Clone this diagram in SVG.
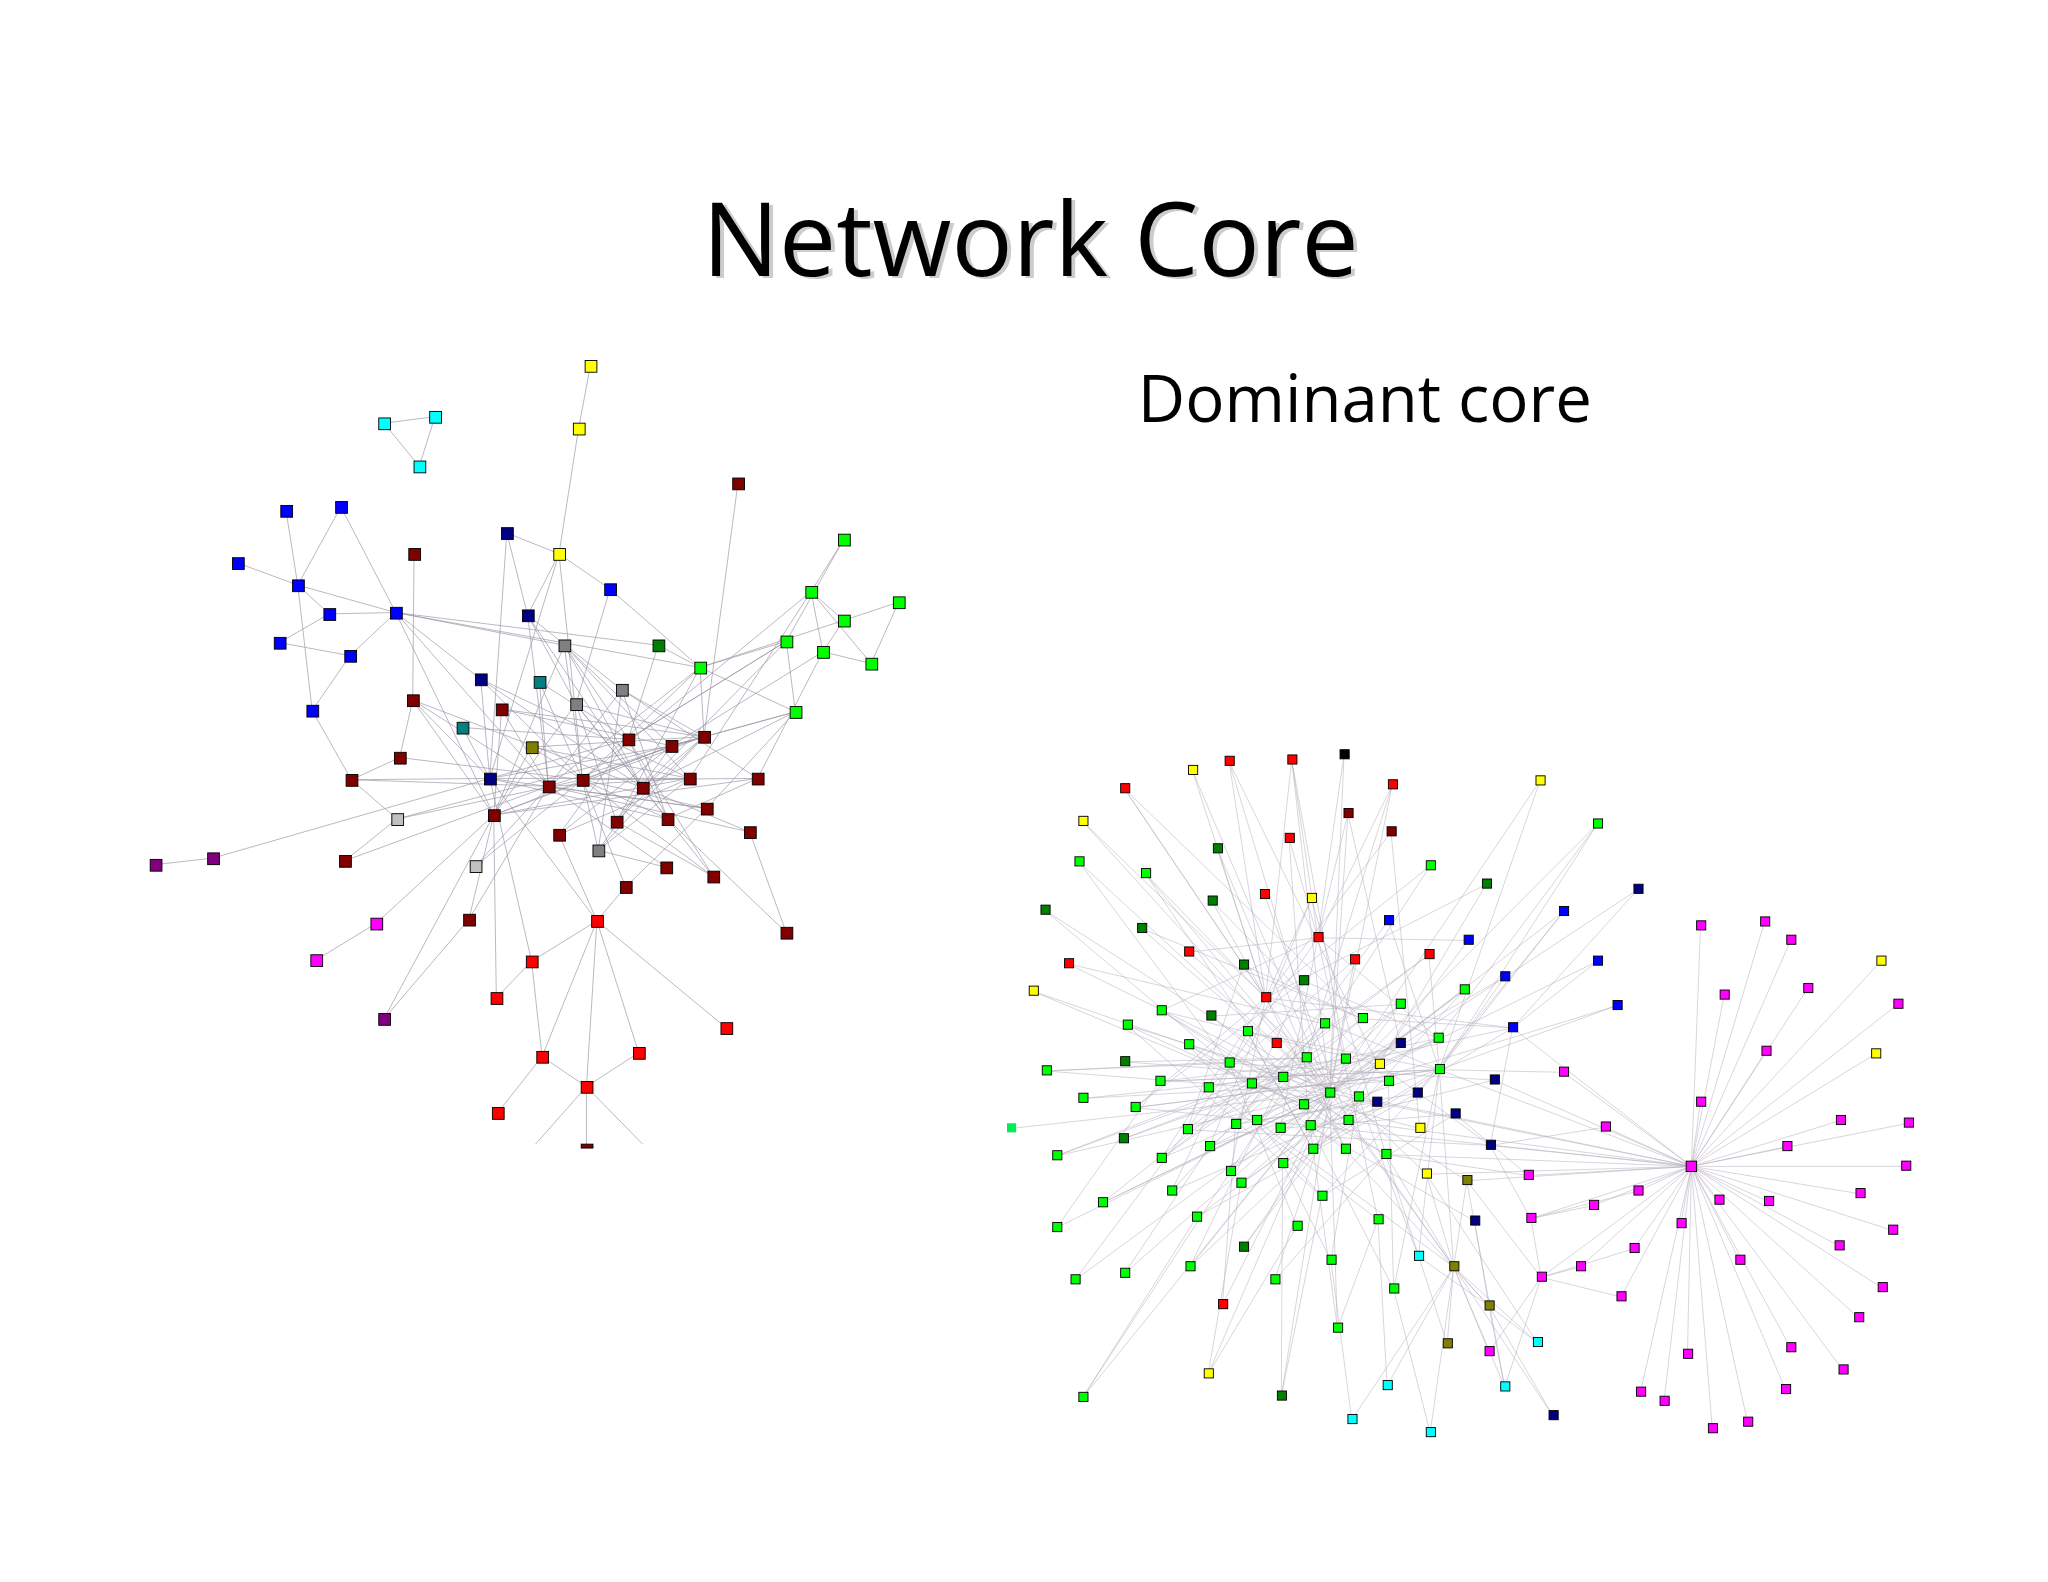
<svg xmlns="http://www.w3.org/2000/svg" width="2048" height="1582" viewBox="0 0 2048 1582">
<style>
.t{font-family:"Open Sans","Lato",sans-serif;fill:#000}
.e{fill:none;stroke:#9a94a4;stroke-width:0.6;opacity:0.85}
.er{fill:none;stroke:#b4aebe;stroke-width:0.5;opacity:0.8}
.L rect,.R rect{stroke:#000;stroke-width:0.7}
.L rect{width:9px;height:9px}
.R rect{width:7px;height:7px}
.cy{fill:#00ffff}.ye{fill:#ffff00}.dr{fill:#800000}.bl{fill:#0000ff}.nv{fill:#000080}.gr{fill:#808080}.lg{fill:#c0c0c0}.te{fill:#008080}.ol{fill:#808000}.dg{fill:#008000}.g{fill:#00ff00}.pu{fill:#800080}.mg{fill:#ff00ff}.rd{fill:#ff0000}.bk{fill:#000}
</style>
<rect x="0" y="0" width="2048" height="1582" fill="#fff"/>
<g transform="scale(1.3061)">
<text class="t" x="792" y="213" font-size="78" text-anchor="middle" style="fill:#ccc">Network Core</text>
<text class="t" x="789" y="211" font-size="78" text-anchor="middle">Network Core</text>
<text class="t" x="1045" y="323" font-size="50" text-anchor="middle">Dominant core</text>
<g id="connectors">
<path class="e" d="M294,324L333,319L321,357L294,324 M452,280L443,328L428,424L404,471 M428,424L388,408 M428,424L467,451 M428,424L375,596 M428,424L446,597 M565,370L539,564 M317,424L316,536 M219,391L228,448L252,470L303,469 M261,388L228,448 M182,431L228,448 M214,492L252,470 M214,492L268,502 M228,448L239,544 M261,388L303,469 M303,469L268,502 M303,469L368,520L375,596 M303,469L432,494 M303,469L504,494 M303,469L420,602 M303,469L378,624 M268,502L239,544 M228,448L303,469 M239,544L269,597 M388,408L375,596 M388,408L404,471L441,539 M467,451L536,511 M467,451L441,539 M404,471L476,528 M404,471L420,602 M432,494L446,597 M432,494L492,603 M432,494L514,571 M476,528L539,564 M476,528L420,602 M476,528L511,627 M441,539L472,629 M441,539L378,624 M504,494L536,511L539,564 M504,494L481,566 M536,511L646,475 M536,511L609,545 M536,511L602,491 M646,413L621,453L646,475L688,461 M646,413L602,491 M621,453L630,499L667,508 M688,461L667,508 M621,453L667,508 M602,491L609,545 M646,475L630,499 M621,453L528,596 M602,491L492,603 M609,545L541,619 M609,545L514,571 M630,499L580,596 M621,453L446,597 M316,536L306,580L269,597 M316,536L375,596 M316,536L420,602 M316,536L378,624 M384,543L420,602 M384,543L378,624 M354,557L375,596 M407,572L446,597 M407,572L378,624 M413,522L481,566 M269,597L375,596 M269,597L304,627 M304,627L446,597 M304,627L264,659 M163,657L119,662 M163,657L375,596 M364,663L446,597 M364,663L420,602 M375,596L528,596 M375,596L481,566 M375,596L514,571 M375,596L457,705 M378,624L580,596 M378,624L539,564 M378,624L359,704 M378,624L294,780 M420,602L539,564 M420,602L541,619 M420,602L510,664 M420,602L574,637 M446,597L580,596 M446,597L546,671 M446,597L479,679 M446,597L514,571 M446,597L541,619 M492,603L539,564 M492,603L574,637 M492,603L458,651 M481,566L511,627 M481,566L428,639 M481,566L546,671 M514,571L472,629 M514,571L428,639 M528,596L428,639 M528,596L458,651 M539,564L472,629 M539,564L458,651 M511,627L580,596 M511,627L602,714 M541,619L479,679 M428,639L457,705 M458,651L510,664 M472,629L546,671 M479,679L457,705 M457,705L449,832 M457,705L489,806 M457,705L556,787 M457,705L407,736 M457,705L415,809 M407,736L380,764 M407,736L415,809 M415,809L381,852 M415,809L449,832L489,806 M449,832L492,876 M449,832L410,876 M449,832L449,876 M359,704L294,780 M288,707L242,735 M288,707L378,624 M359,704L420,602 M380,764L378,624 M407,736L375,596 M264,659L420,602 M574,637L602,714 M481,566L602,491 M514,571L609,545 M441,539L539,564 M432,494L528,596 M404,471L492,603 M368,520L446,597 M368,520L492,603 M368,520L528,596 M384,543L514,571 M384,543L539,564 M354,557L481,566 M407,572L539,564 M407,572L528,596 M441,539L511,627 M441,539L546,671 M476,528L580,596 M476,528L458,651 M432,494L378,624 M432,494L481,566 M413,522L446,597 M413,522L420,602 M536,511L420,602 M536,511L446,597 M536,511L472,629 M602,491L481,566 M630,499L514,571 M609,545L492,603 M375,596L541,619 M375,596L511,627 M378,624L528,596 M378,624L514,571 M420,602L528,596 M446,597L511,627 M446,597L458,651 M304,627L539,564 M269,597L420,602 M306,580L446,597 M316,536L492,603 M303,469L536,511"/>
<path class="er" d="M1295,893L1302,709 M1295,893L1351,706 M1295,893L1371,720 M1295,893L1320,762 M1295,893L1384,757 M1295,893L1453,769 M1295,893L1352,805 M1295,893L1197,821 M1295,893L1302,844 M1295,893L1229,863 M1295,893L1409,858 M1295,893L1461,860 M1295,893L1368,878 M1295,893L1459,893 M1295,893L1170,900 M1295,893L1254,912 M1295,893L1220,923 M1295,893L1172,933 M1295,893L1316,919 M1295,893L1354,920 M1295,893L1424,914 M1295,893L1287,937 M1295,893L1251,956 M1295,893L1449,942 M1295,893L1332,965 M1295,893L1210,970 M1295,893L1180,978 M1295,893L1408,954 M1295,893L1241,993 M1295,893L1441,986 M1295,893L1423,1009 M1295,893L1371,1032 M1295,893L1292,1037 M1295,893L1411,1049 M1295,893L1367,1064 M1295,893L1256,1066 M1295,893L1274,1073 M1295,893L1338,1089 M1295,893L1311,1094 M1295,893L1440,736 M1295,893L1436,807 M1295,893L1102,819 M1295,893L1061,884 M1295,893L1030,858 M1295,893L1158,787 M1295,893L1092,899 M1295,893L1003,862 M1295,893L1144,827 M1295,893L1018,837 M1295,893L1040,840 M1295,893L1123,904 M1295,893L1141,877
M1018,837L861,604 M1018,837L941,583 M1018,837L989,582 M1018,837L1066,601 M1018,837L1029,578 M1018,837L1032,623 M1018,837L913,590 M1018,837L829,629 M1018,837L826,660 M1018,837L877,669 M1018,837L800,697 M1018,837L874,711 M1018,837L818,738 M1018,837L791,759 M1018,837L801,820 M1018,837L774,864 M1018,837L809,885 M1018,837L809,940 M1018,837L823,980 M1018,837L844,921 M1018,837L861,975 M1018,837L911,970 M1018,837L936,999 M1018,837L925,1052 M1018,837L829,1070 M1018,837L981,1069 M1018,837L1024,1017 M1018,837L1179,598 M1018,837L1223,631 M1018,837L1254,681 M1018,837L1197,698 M1018,837L1223,736 M1018,837L1238,770
M969,764L861,604 M969,764L941,583 M969,764L989,582 M969,764L913,590 M969,764L829,629 M969,764L877,669 M969,764L932,650 M969,764L928,690 M969,764L1004,688 M969,764L1065,637 M969,764L1095,663 M969,764L1138,677 M969,764L1102,819 M969,764L869,848 M969,764L889,887 M969,764L942,897 M969,764L1030,880 M969,764L1158,787
M1009,718L989,582 M1009,718L1029,578 M1009,718L1032,623 M1009,718L1066,601 M1009,718L987,642 M1009,718L910,729 M1009,718L889,774 M1009,718L909,865 M1009,718L980,864 M1009,718L1055,934 M1009,718L1101,795 M1009,718L1124,720
M1102,819L1223,631 M1102,819L1179,598 M1102,819L1197,698 M1102,819L1152,748 M1102,819L1238,770 M1102,819L1063,705 M1102,819L1094,731 M1102,819L955,790 M1102,819L888,828 M1102,819L869,848 M1102,819L926,878 M1102,819L982,891 M1102,819L1012,916 M1102,819L1086,962 M1102,819L1113,970 M1102,819L1067,987
M1158,787L1254,681 M1158,787L1223,736 M1158,787L1043,780 M1158,787L958,830 M1158,787L1005,880 M1158,787L1141,877
M1113,970L1177,1028 M1113,970L1152,1062 M1113,970L1062,1061 M1113,970L1035,1087 M1113,970L1095,1097 M1113,970L1140,1000 M1113,970L1108,1029 M1113,970L1140,1035 M1113,970L1189,1084 M1113,970L1000,810 M1113,970L962,858 M1113,970L1061,884 M1113,970L1123,904 M1113,970L1032,858 M1113,970L1092,899 M1140,1000L1177,1028 M1140,1000L1152,1062 M1140,1000L1086,962 M1140,1000L1129,935 M1140,1000L1030,880 M1180,978L1152,1062 M1180,978L1140,1035 M1180,978L1123,904 M1180,978L1241,993 M1180,978L1210,970 M1180,978L1172,933 M1180,978L1251,956 M1172,933L1220,923 M1172,933L1254,912 M1172,933L1141,877 M1170,900L1114,853 M1170,900L1061,884 M1197,821L1102,819 M1229,863L1141,877
M829,1070L942,897 M829,1070L916,932 M925,1052L950,906 M925,1052L993,939 M981,1069L982,891 M981,1069L1012,916 M936,999L946,861 M1024,1017L1003,862 M1024,1017L1055,934 M823,980L909,865 M861,975L926,878 M809,940L888,828 M844,921L958,830 M911,970L982,825 M976,980L1030,811 M1019,965L1040,840 M1067,987L1063,828
M801,820L941,814 M801,820L1000,810 M829,841L982,825 M829,841L1063,828 M888,828L1030,811 M888,828L1102,819 M863,785L1040,840 M863,785L998,846 M889,774L1032,858 M910,800L1061,884 M910,800L1012,916 M955,790L1005,880 M955,790L897,912 M1014,784L909,865 M1014,784L946,861 M1043,780L926,878 M1072,769L942,897 M1072,769L962,858 M1121,758L980,864 M1121,758L1030,858 M1101,795L889,887 M1101,795L925,833 M869,848L1102,819 M869,848L1003,862 M909,865L1072,799 M946,861L1085,837 M962,858L1054,844 M980,864L1114,853 M1003,862L1144,827 M809,885L958,830 M809,885L1000,810 M889,887L1043,780 M926,878L1101,795 M942,897L1121,758 M982,891L1072,769 M1005,880L955,790 M1030,880L910,800 M1061,884L889,774 M897,912L1014,784 M950,906L1063,828 M1012,916L863,785 M844,921L1018,837 M916,932L1040,840 M993,939L941,814 M1055,934L925,833 M911,970L1030,858 M976,980L1061,884 M1019,965L982,891 M1067,987L1003,862 M1055,815L889,774 M1087,864L958,830 M1056,815L1141,877 M952,739L1043,780 M998,751L1101,795 M998,751L869,848 M927,778L1072,769 M861,813L1000,810 M860,872L1030,811 M952,955L1005,880 M952,739L909,865 M998,751L946,861 M927,778L1030,858 M861,813L1063,828 M860,872L982,825 M952,955L1040,840 M1037,735L1018,837 M1037,735L925,833 M1094,731L958,830 M910,729L1040,840 M987,642L1002,862 M968,685L1032,858 M1004,688L926,878 M1004,688L1061,884 M932,650L1030,880 M928,690L1063,828 M874,711L1043,780 M800,697L958,830 M826,660L941,814 M877,669L982,825 M818,738L1014,784 M791,759L998,846 M1095,663L942,897 M1138,677L1030,858 M1063,705L946,861 M1124,720L1005,880 M1152,748L962,858 M1094,731L889,887 M1066,601L1000,810 M989,582L1030,811 M941,583L1055,815 M861,604L1043,780 M1065,637L1087,864 M1032,623L1072,799 M1223,631L1101,795 M1197,698L1085,837 M1144,827L941,814 M1114,853L1012,916 M1085,837L916,932 M1054,844L897,912 M1072,799L950,906 M1141,877L909,865 M1129,935L1003,862 M1123,904L1018,837 M1092,899L1000,810 M1086,962L1040,840 M1062,1061L1055,934 M1035,1087L1019,965 M1095,1097L1067,987 M1177,1028L1092,899 M1152,1062L1123,904 M1108,1029L1061,884 M1189,1084L1140,1000"/>
</g>
<g id="nodesL" class="L">
<rect id="nl1" class="cy" x="290" y="320"/><rect id="nl2" class="cy" x="329" y="315"/><rect id="nl3" class="cy" x="317" y="353"/>
<rect id="nl4" class="ye" x="448" y="276"/><rect id="nl5" class="ye" x="439" y="324"/><rect id="nl6" class="ye" x="424" y="420"/>
<rect id="nl7" class="dr" x="561" y="366"/><rect id="nl8" class="dr" x="313" y="420"/>
<rect id="nl9" class="bl" x="215" y="387"/><rect id="nl10" class="bl" x="257" y="384"/><rect id="nl11" class="bl" x="178" y="427"/><rect id="nl12" class="bl" x="224" y="444"/><rect id="nl13" class="bl" x="248" y="466"/><rect id="nl14" class="bl" x="299" y="465"/><rect id="nl15" class="bl" x="210" y="488"/><rect id="nl16" class="bl" x="264" y="498"/><rect id="nl17" class="bl" x="235" y="540"/><rect id="nl18" class="bl" x="463" y="447"/>
<rect id="nl19" class="nv" x="384" y="404"/><rect id="nl20" class="nv" x="400" y="467"/><rect id="nl21" class="nv" x="364" y="516"/><rect id="nl22" class="nv" x="371" y="592"/>
<rect id="nl23" class="gr" x="428" y="490"/><rect id="nl24" class="gr" x="472" y="524"/><rect id="nl25" class="gr" x="437" y="535"/><rect id="nl26" class="gr" x="454" y="647"/><rect id="nl27" class="lg" x="300" y="623"/><rect id="nl28" class="lg" x="360" y="659"/>
<rect id="nl29" class="te" x="409" y="518"/><rect id="nl30" class="te" x="350" y="553"/><rect id="nl31" class="ol" x="403" y="568"/><rect id="nl32" class="dg" x="500" y="490"/>
<rect id="nl33" class="g" x="532" y="507"/><rect id="nl34" class="g" x="642" y="409"/><rect id="nl35" class="g" x="617" y="449"/><rect id="nl36" class="g" x="642" y="471"/><rect id="nl37" class="g" x="684" y="457"/><rect id="nl38" class="g" x="598" y="487"/><rect id="nl39" class="g" x="626" y="495"/><rect id="nl40" class="g" x="663" y="504"/><rect id="nl41" class="g" x="605" y="541"/>
<rect id="nl42" class="dr" x="312" y="532"/><rect id="nl43" class="dr" x="380" y="539"/><rect id="nl44" class="dr" x="302" y="576"/><rect id="nl45" class="dr" x="265" y="593"/><rect id="nl46" class="dr" x="477" y="562"/><rect id="nl47" class="dr" x="510" y="567"/><rect id="nl48" class="dr" x="535" y="560"/><rect id="nl49" class="dr" x="416" y="598"/><rect id="nl50" class="dr" x="442" y="593"/><rect id="nl51" class="dr" x="488" y="599"/><rect id="nl52" class="dr" x="524" y="592"/><rect id="nl53" class="dr" x="576" y="592"/><rect id="nl54" class="dr" x="374" y="620"/><rect id="nl55" class="dr" x="424" y="635"/><rect id="nl56" class="dr" x="468" y="625"/><rect id="nl57" class="dr" x="507" y="623"/><rect id="nl58" class="dr" x="537" y="615"/><rect id="nl59" class="dr" x="570" y="633"/><rect id="nl60" class="dr" x="506" y="660"/><rect id="nl61" class="dr" x="542" y="667"/><rect id="nl62" class="dr" x="475" y="675"/><rect id="nl63" class="dr" x="260" y="655"/><rect id="nl64" class="dr" x="355" y="700"/><rect id="nl65" class="dr" x="598" y="710"/>
<rect id="nl66" class="pu" x="115" y="658"/><rect id="nl67" class="pu" x="159" y="653"/><rect id="nl68" class="pu" x="290" y="776"/>
<rect id="nl69" class="mg" x="284" y="703"/><rect id="nl70" class="mg" x="238" y="731"/>
<rect id="nl71" class="rd" x="453" y="701"/><rect id="nl72" class="rd" x="403" y="732"/><rect id="nl73" class="rd" x="376" y="760"/><rect id="nl74" class="rd" x="411" y="805"/><rect id="nl75" class="rd" x="485" y="802"/><rect id="nl76" class="rd" x="552" y="783"/><rect id="nl77" class="rd" x="445" y="828"/><rect id="nl78" class="rd" x="377" y="848"/><rect id="nl79" class="dr" x="445" y="876" style="height:3px"/>
</g>
<g id="nodesR" class="R">
<rect class="rd" x="858" y="600"/><rect class="rd" x="938" y="579"/><rect class="rd" x="986" y="578"/><rect class="rd" x="1063" y="597"/><rect class="rd" x="984" y="638"/><rect class="rd" x="965" y="681"/><rect class="rd" x="907" y="725"/><rect class="rd" x="1006" y="714"/><rect class="rd" x="1034" y="731"/><rect class="rd" x="1091" y="727"/><rect class="rd" x="815" y="734"/><rect class="rd" x="966" y="760"/><rect class="rd" x="974" y="795"/><rect class="rd" x="933" y="995"/>
<rect class="bk" x="1026" y="574"/><rect class="dr" x="1029" y="619"/><rect class="dr" x="1062" y="633"/>
<rect class="ye" x="910" y="586"/><rect class="ye" x="826" y="625"/><rect class="ye" x="1176" y="594"/><rect class="ye" x="1001" y="684"/><rect class="ye" x="788" y="755"/><rect class="ye" x="1053" y="811"/><rect class="ye" x="1084" y="860"/><rect class="ye" x="1089" y="895"/><rect class="ye" x="1437" y="732"/><rect class="ye" x="1433" y="803"/><rect class="ye" x="922" y="1048"/>
<rect class="g" x="1220" y="627"/><rect class="g" x="823" y="656"/><rect class="g" x="874" y="665"/><rect class="g" x="1092" y="659"/><rect class="g" x="886" y="770"/><rect class="g" x="860" y="781"/><rect class="g" x="907" y="796"/><rect class="g" x="952" y="786"/><rect class="g" x="1011" y="780"/><rect class="g" x="1040" y="776"/><rect class="g" x="1069" y="765"/><rect class="g" x="1118" y="754"/><rect class="g" x="798" y="816"/><rect class="g" x="826" y="837"/><rect class="g" x="885" y="824"/><rect class="g" x="922" y="829"/><rect class="g" x="938" y="810"/><rect class="g" x="955" y="826"/><rect class="g" x="979" y="821"/><rect class="g" x="997" y="806"/><rect class="g" x="1027" y="807"/><rect class="g" x="1015" y="833"/><rect class="g" x="995" y="842"/><rect class="g" x="1037" y="836"/><rect class="g" x="1060" y="824"/><rect class="g" x="1099" y="815"/><rect class="g" x="1098" y="791"/><rect class="g" x="866" y="844"/><rect class="g" x="906" y="861"/><rect class="g" x="943" y="857"/><rect class="g" x="959" y="854"/><rect class="g" x="977" y="860"/><rect class="g" x="1000" y="858"/><rect class="g" x="1029" y="854"/><rect class="g" x="806" y="881"/><rect class="g" x="886" y="883"/><rect class="g" x="923" y="874"/><rect class="g" x="939" y="893"/><rect class="g" x="979" y="887"/><rect class="g" x="1002" y="876"/><rect class="g" x="1027" y="876"/><rect class="g" x="1058" y="880"/><rect class="g" x="894" y="908"/><rect class="g" x="947" y="902"/><rect class="g" x="1009" y="912"/><rect class="g" x="841" y="917"/><rect class="g" x="913" y="928"/><rect class="g" x="990" y="935"/><rect class="g" x="1052" y="930"/><rect class="g" x="806" y="936"/><rect class="g" x="908" y="966"/><rect class="g" x="973" y="976"/><rect class="g" x="1016" y="961"/><rect class="g" x="1064" y="983"/><rect class="g" x="820" y="976"/><rect class="g" x="858" y="971"/><rect class="g" x="1021" y="1013"/><rect class="g" x="826" y="1066"/><rect class="g" x="771" y="860" style="fill:#00ee55;stroke:none"/>
<rect class="dg" x="797" y="693"/><rect class="dg" x="871" y="707"/><rect class="dg" x="925" y="686"/><rect class="dg" x="929" y="646"/><rect class="dg" x="1135" y="673"/><rect class="dg" x="949" y="735"/><rect class="dg" x="995" y="747"/><rect class="dg" x="924" y="774"/><rect class="dg" x="858" y="809"/><rect class="dg" x="857" y="868"/><rect class="dg" x="949" y="951"/><rect class="dg" x="978" y="1065"/>
<rect class="bl" x="1194" y="694"/><rect class="bl" x="1220" y="732"/><rect class="bl" x="1060" y="701"/><rect class="bl" x="1121" y="716"/><rect class="bl" x="1149" y="744"/><rect class="bl" x="1235" y="766"/><rect class="bl" x="1155" y="783"/>
<rect class="nv" x="1251" y="677"/><rect class="nv" x="1069" y="795"/><rect class="nv" x="1082" y="833"/><rect class="nv" x="1051" y="840"/><rect class="nv" x="1141" y="823"/><rect class="nv" x="1111" y="849"/><rect class="nv" x="1138" y="873"/><rect class="nv" x="1126" y="931"/><rect class="nv" x="1186" y="1080"/>
<rect class="ol" x="1120" y="900"/><rect class="ol" x="1110" y="966"/><rect class="ol" x="1137" y="996"/><rect class="ol" x="1105" y="1025"/>
<rect class="cy" x="1083" y="958"/><rect class="cy" x="1174" y="1024"/><rect class="cy" x="1149" y="1058"/><rect class="cy" x="1059" y="1057"/><rect class="cy" x="1032" y="1083"/><rect class="cy" x="1092" y="1093"/>
<rect class="mg" x="1299" y="705"/><rect class="mg" x="1348" y="702"/><rect class="mg" x="1368" y="716"/><rect class="mg" x="1317" y="758"/><rect class="mg" x="1381" y="753"/><rect class="mg" x="1450" y="765"/><rect class="mg" x="1349" y="801"/><rect class="mg" x="1194" y="817"/><rect class="mg" x="1299" y="840"/><rect class="mg" x="1226" y="859"/><rect class="mg" x="1406" y="854"/><rect class="mg" x="1458" y="856"/><rect class="mg" x="1291" y="889" style="width:8px;height:8px"/><rect class="mg" x="1365" y="874"/><rect class="mg" x="1456" y="889"/><rect class="mg" x="1167" y="896"/><rect class="mg" x="1251" y="908"/><rect class="mg" x="1217" y="919"/><rect class="mg" x="1169" y="929"/><rect class="mg" x="1313" y="915"/><rect class="mg" x="1351" y="916"/><rect class="mg" x="1421" y="910"/><rect class="mg" x="1284" y="933"/><rect class="mg" x="1248" y="952"/><rect class="mg" x="1446" y="938"/><rect class="mg" x="1329" y="961"/><rect class="mg" x="1207" y="966"/><rect class="mg" x="1177" y="974"/><rect class="mg" x="1405" y="950"/><rect class="mg" x="1238" y="989"/><rect class="mg" x="1438" y="982"/><rect class="mg" x="1420" y="1005"/><rect class="mg" x="1368" y="1028"/><rect class="mg" x="1289" y="1033"/><rect class="mg" x="1137" y="1031"/><rect class="mg" x="1408" y="1045"/><rect class="mg" x="1364" y="1060"/><rect class="mg" x="1253" y="1062"/><rect class="mg" x="1271" y="1069"/><rect class="mg" x="1335" y="1085"/><rect class="mg" x="1308" y="1090"/>
</g>
</g>
</svg>
